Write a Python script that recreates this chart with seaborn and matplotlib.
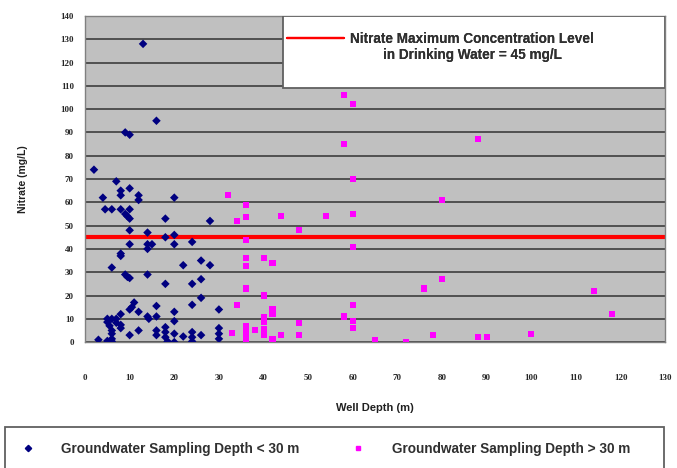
import pandas as pd
import matplotlib
matplotlib.use("Agg")
from matplotlib import pyplot as plt
from matplotlib.lines import Line2D
from matplotlib.patches import Rectangle
from matplotlib.legend_handler import HandlerLine2D
import seaborn as sns

# wells shallower than 30 m
shallow_depth = [13, 16, 9, 10, 2, 7, 8, 8, 10, 12, 12, 20, 4, 4.5, 6, 8, 10, 9, 9.5, 10,
                 18, 28, 10, 14, 20, 20, 18, 10, 14, 15, 14, 24, 8, 8, 6, 26, 28, 22, 9, 9.5,
                 10, 14, 26, 18, 24, 26, 24, 11, 10.5, 8, 10, 12, 16, 16, 14, 14.3, 20, 20, 30,
                 5, 6, 7, 5, 5.5, 6, 6, 6, 5.5, 5, 6, 7, 8, 8, 3, 10, 12, 16, 16, 18, 18, 18,
                 18.5, 20, 20, 22, 24, 24, 24, 26, 30, 30, 30]
shallow_nitrate = [128, 95, 90, 89, 74, 69, 65, 63, 66, 63, 61, 62, 62, 57, 57, 57, 57, 55, 54, 53,
                   53, 52, 48, 47, 46, 42, 45, 42, 42, 42, 40, 43, 38, 37, 32, 35, 33, 33, 29, 28,
                   27.5, 29, 27, 25, 25, 19, 16, 17, 15, 12, 14, 13, 15.5, 11, 11, 10, 13, 9, 14,
                   10, 10, 10, 8.6, 7, 5, 3.6, 1.4, 0, 0.5, 0.3, 8.3, 7.4, 6, 1, 3, 5, 5, 3, 6.4, 4.3, 2.1,
                   0.3, 3.6, 0, 2.4, 4.3, 2.1, 0.3, 3, 6, 3.6, 1.4]

# wells deeper than 30 m
deep_depth = [32, 36, 34, 36, 44, 36, 36, 36, 40, 42, 36, 40, 34, 42, 42, 40, 40, 40, 40,
              36, 36, 36, 36, 36, 38, 33, 42, 44, 58, 60, 58, 88, 60, 80, 60, 54, 48, 60,
              80, 76, 60, 58, 60, 60, 48, 48, 65, 72, 78, 88, 90, 114, 118, 100]
deep_nitrate = [63, 59, 52, 53.5, 54, 44, 36, 32.5, 36, 34, 23, 20, 16, 14, 12, 10.7, 8.6, 5.7, 2.9,
                7, 5, 3, 1, 0, 5, 4, 1.5, 3, 106, 102, 85, 87, 70, 61, 55, 54, 48, 41,
                27, 23, 16, 11, 9, 6, 8, 3, 1, 0, 3, 2, 2, 22, 12, 3.5]

mcl = 45
lab_shallow = "Groundwater Sampling Depth < 30 m"
lab_deep = "Groundwater Sampling Depth > 30 m"
lab_mcl = "Nitrate Maximum Concentration Level\nin Drinking Water = 45 mg/L"

df = pd.concat([
    pd.DataFrame({"depth": shallow_depth, "nitrate": shallow_nitrate, "group": lab_shallow}),
    pd.DataFrame({"depth": deep_depth, "nitrate": deep_nitrate, "group": lab_deep}),
])


# legend line drawn level with the first text row (as in the original chart)
class FirstRowLine(HandlerLine2D):
    def create_artists(self, legend, orig_handle, xdescent, ydescent, width, height, fontsize, trans):
        arts = super().create_artists(legend, orig_handle, xdescent, ydescent,
                                      width, height, fontsize, trans)
        for a in arts:
            a.set_ydata([v + 0.72 * fontsize for v in a.get_ydata()])
        return arts


sns.set_style("white")
plt.rcParams["font.family"] = ["Liberation Sans", "DejaVu Sans"]

fig = plt.figure(figsize=(6.77, 4.68), dpi=100)
ax = fig.add_axes([0.1256, 0.269, 0.857, 0.697])
ax.set_facecolor("#C0C0C0")

ax.axhline(mcl, color="#FF0000", lw=3, zorder=2)
sns.scatterplot(data=df, x="depth", y="nitrate", hue="group", style="group",
                palette={lab_shallow: "#000080", lab_deep: "#FF00FF"},
                markers={lab_shallow: "D", lab_deep: "s"},
                s=19, linewidth=0, legend=False, zorder=3, ax=ax)

ax.set_xlim(0, 130)
ax.set_ylim(0, 140)
ax.set_xticks(range(0, 131, 10))
ax.set_yticks(range(0, 141, 10))
ax.yaxis.grid(True, color="#484848", lw=1.3)
ax.xaxis.grid(False)
ax.set_axisbelow(True)
for sp in ax.spines.values():
    sp.set_color("#808080")
    sp.set_linewidth(1)

tick_font = {"family": "Liberation Serif", "weight": "bold", "size": 6.5}
ax.tick_params(axis="both", direction="out", length=3, color="#404040")
ax.tick_params(axis="x", pad=20)
ax.tick_params(axis="y", pad=5)
for t in ax.get_xticklabels() + ax.get_yticklabels():
    t.set_fontproperties(tick_font)

ax.set_xlabel("Well Depth (m)", fontsize=8, fontweight="bold", color="#202020")
ax.set_ylabel("Nitrate (mg/L)", fontsize=7.5, fontweight="bold", color="#202020")
ax.xaxis.set_label_coords(0.5, -0.187)
ax.yaxis.set_label_coords(-0.098, 0.5)

# top legend (MCL line) inside a white box in the upper right of the plot
ax.add_patch(Rectangle((0.3414, 0.779), 0.6586, 0.221, transform=ax.transAxes,
                       facecolor="white", edgecolor="#606060", lw=1.3, zorder=4))
mcl_handle = Line2D([], [], color="#FF0000", lw=1.6)
leg1 = ax.legend([mcl_handle], [lab_mcl], handler_map={mcl_handle: FirstRowLine()},
                 loc="upper left", bbox_to_anchor=(0.3483, 0.951), frameon=False,
                 borderaxespad=0, borderpad=0, handlelength=4.2, handletextpad=0.45,
                 prop={"weight": "bold", "size": 9.8})
leg1.set_zorder(5)
for t in leg1.get_texts():
    t.set_multialignment("center")
    t.set_color("#303030")
ax.add_artist(leg1)

# bottom legend for the two groups, box runs off the bottom edge
fig.add_artist(Rectangle((0.0074, -0.02), 0.9734, 0.1076, transform=fig.transFigure,
                         facecolor="white", edgecolor="#606060", lw=1.3, zorder=1))
h1 = Line2D([], [], marker="D", color="#000080", linestyle="", markersize=3.2)
h2 = Line2D([], [], marker="s", color="#FF00FF", linestyle="", markersize=3.4)
leg2 = fig.legend([h1, h2], [lab_shallow, lab_deep], ncol=2, loc="center left",
                  bbox_to_anchor=(0.031, 0.0406), frameon=False,
                  borderaxespad=0, borderpad=0, handletextpad=1.93, handlelength=1,
                  columnspacing=3.85, prop={"weight": "bold", "size": 9.8})
leg2.set_zorder(2)
for t in leg2.get_texts():
    t.set_color("#303030")

fig.savefig("out.png", dpi=100)
